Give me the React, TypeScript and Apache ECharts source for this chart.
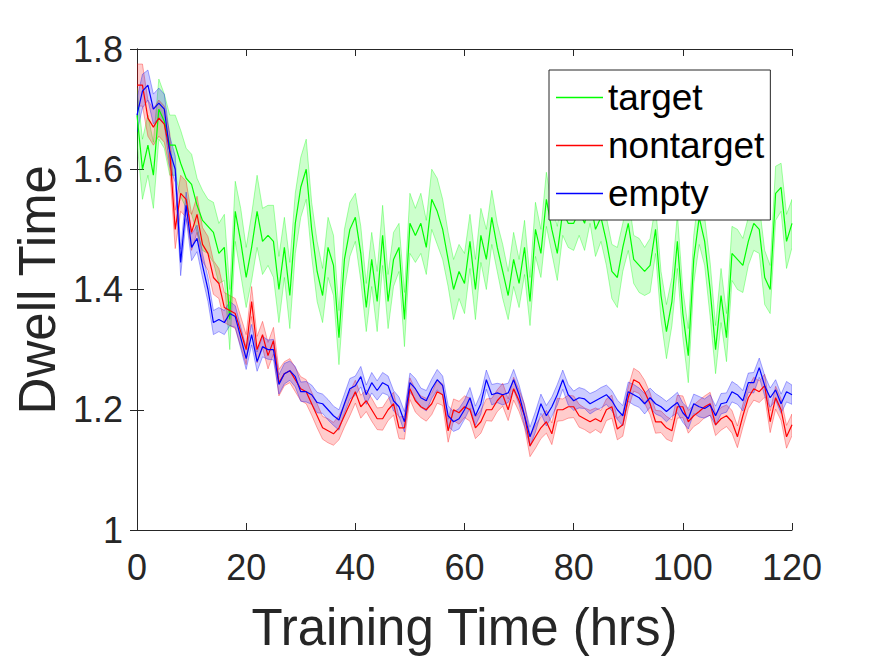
import React, { useEffect, useRef } from 'react';
import * as echarts from 'echarts';

const FONT = '"Liberation Sans", Arial, Helvetica, sans-serif';

const hours: number[] = Array.from({ length: 121 }, (_, i) => i);
const xTicks = { min: 0, max: 120, interval: 20 };
const yTicks = { min: 1, max: 1.8, interval: 0.2 };
const seriesNames = ['target', 'nontarget', 'empty'];

const targetMean = [
  1.69, 1.60, 1.64, 1.59, 1.70, 1.68, 1.64, 1.64, 1.61, 1.585, 1.575,
  1.54, 1.515, 1.505, 1.495, 1.46, 1.47, 1.35, 1.53, 1.48, 1.42,
  1.47, 1.53, 1.48, 1.49, 1.48, 1.40, 1.47, 1.39, 1.51, 1.57,
  1.60, 1.50, 1.43, 1.39, 1.47, 1.44, 1.32, 1.45, 1.50, 1.52,
  1.46, 1.37, 1.45, 1.38, 1.49, 1.38, 1.45, 1.47, 1.35, 1.51,
  1.49, 1.51, 1.47, 1.55, 1.53, 1.50, 1.45, 1.40, 1.43, 1.41,
  1.48, 1.40, 1.49, 1.45, 1.52, 1.47, 1.43, 1.39, 1.45, 1.41,
  1.47, 1.38, 1.50, 1.46, 1.55, 1.50, 1.46, 1.53, 1.51, 1.51,
  1.53, 1.51, 1.55, 1.50, 1.52, 1.48, 1.43, 1.42, 1.47, 1.51,
  1.45, 1.44, 1.43, 1.44, 1.50, 1.39, 1.33, 1.38, 1.48, 1.36,
  1.29, 1.45, 1.52, 1.48, 1.40, 1.30, 1.39, 1.32, 1.46, 1.45,
  1.44, 1.48, 1.51, 1.50, 1.42, 1.40, 1.56, 1.57, 1.48, 1.51,
];
const targetSem = [
  0.045, 0.05, 0.05, 0.055, 0.05, 0.045, 0.05, 0.05, 0.055, 0.05, 0.05,
  0.045, 0.05, 0.045, 0.05, 0.05, 0.055, 0.05, 0.05, 0.055, 0.05,
  0.055, 0.06, 0.055, 0.05, 0.06, 0.055, 0.05, 0.055, 0.05, 0.05,
  0.05, 0.045, 0.05, 0.045, 0.05, 0.05, 0.045, 0.05, 0.045, 0.04,
  0.045, 0.04, 0.045, 0.05, 0.05, 0.045, 0.045, 0.04, 0.045, 0.05,
  0.045, 0.05, 0.045, 0.05, 0.055, 0.05, 0.045, 0.05, 0.045, 0.05,
  0.045, 0.05, 0.045, 0.05, 0.045, 0.04, 0.045, 0.04, 0.045, 0.04,
  0.045, 0.04, 0.045, 0.04, 0.045, 0.04, 0.045, 0.04, 0.04, 0.045,
  0.04, 0.045, 0.04, 0.045, 0.04, 0.04, 0.045, 0.05, 0.04, 0.045,
  0.04, 0.045, 0.04, 0.045, 0.04, 0.04, 0.045, 0.04, 0.045, 0.04,
  0.045, 0.04, 0.045, 0.04, 0.045, 0.04, 0.045, 0.04, 0.045, 0.05,
  0.045, 0.04, 0.045, 0.04, 0.045, 0.04, 0.045, 0.04, 0.045, 0.04,
];

const nontargetMean = [
  1.74, 1.74, 1.685, 1.67, 1.685, 1.675, 1.63, 1.50, 1.56, 1.55, 1.495,
  1.525, 1.475, 1.46, 1.42, 1.41, 1.37, 1.365, 1.36, 1.33, 1.30,
  1.38, 1.30, 1.325, 1.29, 1.315, 1.245, 1.26, 1.265, 1.25, 1.235,
  1.23, 1.21, 1.19, 1.17, 1.165, 1.16, 1.17, 1.19, 1.21, 1.23,
  1.205, 1.215, 1.20, 1.185, 1.185, 1.20, 1.21, 1.17, 1.17, 1.235,
  1.215, 1.205, 1.20, 1.21, 1.23, 1.225, 1.165, 1.20, 1.195, 1.205,
  1.20, 1.17, 1.18, 1.20, 1.20, 1.215, 1.225, 1.20, 1.235, 1.215,
  1.19, 1.14, 1.155, 1.17, 1.18, 1.16, 1.20, 1.20, 1.205, 1.205,
  1.19, 1.185, 1.18, 1.185, 1.18, 1.20, 1.205, 1.168, 1.175, 1.22,
  1.25, 1.245, 1.23, 1.21, 1.18, 1.18, 1.17, 1.165, 1.205, 1.205,
  1.18, 1.19, 1.197, 1.205, 1.21, 1.175, 1.185, 1.19, 1.18, 1.155,
  1.19, 1.22, 1.235, 1.23, 1.24, 1.18, 1.22, 1.20, 1.155, 1.175,
];
const nontargetSem = [
  0.035, 0.035, 0.03, 0.03, 0.03, 0.03, 0.03, 0.032, 0.03, 0.03, 0.03,
  0.03, 0.028, 0.028, 0.028, 0.025, 0.025, 0.025, 0.025, 0.025, 0.025,
  0.025, 0.022, 0.022, 0.022, 0.022, 0.022, 0.02, 0.02, 0.02, 0.02,
  0.02, 0.019, 0.02, 0.019, 0.02, 0.019, 0.02, 0.019, 0.02, 0.019,
  0.019, 0.018, 0.019, 0.018, 0.019, 0.018, 0.019, 0.018, 0.019, 0.018,
  0.019, 0.018, 0.019, 0.018, 0.019, 0.018, 0.019, 0.018, 0.019, 0.018,
  0.019, 0.018, 0.019, 0.018, 0.019, 0.018, 0.019, 0.018, 0.019, 0.018,
  0.019, 0.018, 0.019, 0.018, 0.019, 0.018, 0.019, 0.018, 0.019, 0.018,
  0.019, 0.018, 0.019, 0.018, 0.019, 0.018, 0.019, 0.018, 0.019, 0.018,
  0.019, 0.018, 0.019, 0.018, 0.019, 0.018, 0.019, 0.018, 0.019, 0.018,
  0.019, 0.018, 0.019, 0.018, 0.019, 0.018, 0.019, 0.018, 0.019, 0.018,
  0.019, 0.018, 0.019, 0.018, 0.019, 0.018, 0.019, 0.018, 0.019, 0.018,
];

const emptyMean = [
  1.69, 1.73, 1.74, 1.70, 1.71, 1.70, 1.63, 1.60, 1.445, 1.54, 1.47,
  1.485, 1.44, 1.40, 1.345, 1.35, 1.345, 1.36, 1.355, 1.32, 1.285,
  1.325, 1.28, 1.305, 1.30, 1.30, 1.242, 1.26, 1.265, 1.255, 1.23,
  1.23, 1.225, 1.212, 1.21, 1.20, 1.19, 1.183, 1.21, 1.235, 1.24,
  1.255, 1.225, 1.245, 1.232, 1.245, 1.24, 1.215, 1.205, 1.18, 1.245,
  1.235, 1.22, 1.215, 1.235, 1.25, 1.24, 1.19, 1.18, 1.185, 1.20,
  1.22, 1.19, 1.21, 1.25, 1.225, 1.228, 1.225, 1.228, 1.25, 1.225,
  1.19, 1.155, 1.18, 1.21, 1.19, 1.205, 1.225, 1.25, 1.225, 1.215,
  1.22, 1.218, 1.21, 1.215, 1.22, 1.225, 1.215, 1.20, 1.19, 1.23,
  1.225, 1.22, 1.21, 1.22, 1.21, 1.205, 1.197, 1.205, 1.212, 1.195,
  1.185, 1.21, 1.205, 1.202, 1.208, 1.19, 1.21, 1.212, 1.23, 1.225,
  1.215, 1.245, 1.245, 1.27, 1.24, 1.22, 1.233, 1.21, 1.23, 1.225,
];
const emptySem = [
  0.028, 0.028, 0.025, 0.025, 0.025, 0.025, 0.025, 0.022, 0.022, 0.022, 0.022,
  0.022, 0.02, 0.02, 0.02, 0.02, 0.02, 0.02, 0.018, 0.018, 0.018,
  0.017, 0.016, 0.017, 0.016, 0.017, 0.016, 0.017, 0.016, 0.017, 0.016,
  0.017, 0.016, 0.017, 0.016, 0.017, 0.016, 0.017, 0.016, 0.017, 0.016,
  0.017, 0.016, 0.017, 0.016, 0.017, 0.016, 0.017, 0.016, 0.017, 0.016,
  0.017, 0.016, 0.017, 0.016, 0.017, 0.016, 0.017, 0.016, 0.017, 0.016,
  0.017, 0.016, 0.017, 0.016, 0.017, 0.016, 0.017, 0.016, 0.017, 0.016,
  0.017, 0.016, 0.017, 0.016, 0.017, 0.016, 0.017, 0.016, 0.017, 0.016,
  0.017, 0.016, 0.017, 0.016, 0.017, 0.016, 0.017, 0.016, 0.017, 0.016,
  0.017, 0.016, 0.017, 0.016, 0.017, 0.016, 0.017, 0.016, 0.017, 0.016,
  0.017, 0.016, 0.017, 0.016, 0.017, 0.016, 0.017, 0.016, 0.017, 0.016,
  0.017, 0.016, 0.017, 0.016, 0.017, 0.016, 0.017, 0.016, 0.017, 0.016,
];

function bandSeries(mean: number[], sem: number[], rgb: string) {
  const data = hours.map((h, i) => [h, mean[i] - sem[i], mean[i] + sem[i]]);
  return {
    type: 'custom',
    silent: true,
    clip: true,
    data,
    encode: { x: 0, y: [1, 2] },
    renderItem: (params: any, api: any) => {
      if (params.dataIndex !== 0) return null;
      const up = data.map((d) => api.coord([d[0], d[2]]));
      const lo = data.map((d) => api.coord([d[0], d[1]])).reverse();
      return {
        type: 'polygon',
        shape: { points: up.concat(lo) },
        style: {
          fill: `rgba(${rgb},0.2)`,
          stroke: `rgba(${rgb},0.42)`,
          lineWidth: 0.8,
        },
      };
    },
  };
}

function lineSeries(name: string, mean: number[], color: string) {
  return {
    type: 'line',
    name,
    data: hours.map((h, i) => [h, mean[i]]),
    showSymbol: false,
    symbol: 'none',
    lineStyle: { color, width: 1.2 },
    itemStyle: { color },
    z: 3,
  };
}

const AX = '#262626';

export default function App() {
  const ref = useRef<HTMLDivElement>(null);
  useEffect(() => {
    if (!ref.current) return;
    const chart = echarts.init(ref.current, undefined, { renderer: 'svg' });
    const axisCommon = {
      type: 'value',
      axisLine: { show: true, lineStyle: { color: AX, width: 1 } },
      axisTick: { show: true, inside: true, length: 7, lineStyle: { color: AX, width: 1 } },
      splitLine: { show: false },
    };
    chart.setOption({
      animation: false,
      backgroundColor: '#fff',
      grid: { left: 137, top: 49, right: 83, bottom: 126, containLabel: false },
      xAxis: [
        {
          ...axisCommon,
          ...xTicks,
          position: 'bottom',
          axisLabel: { fontSize: 36, color: AX, margin: 19, fontFamily: FONT },
        },
        {
          ...axisCommon,
          ...xTicks,
          position: 'top',
          axisLabel: { show: false },
        },
      ],
      yAxis: [
        {
          ...axisCommon,
          ...yTicks,
          position: 'left',
          axisLabel: { fontSize: 36, color: AX, margin: 14, fontFamily: FONT },
        },
        {
          ...axisCommon,
          ...yTicks,
          position: 'right',
          axisLabel: { show: false },
        },
      ],
      legend: {
        orient: 'vertical',
        left: 549,
        top: 70,
        data: seriesNames,
        icon: 'rect',
        itemWidth: 47,
        itemHeight: 1.5,
        itemGap: 11,
        padding: [9, 6, 8, 7],
        backgroundColor: '#fff',
        borderColor: AX,
        borderWidth: 1,
        borderRadius: 0,
        selectedMode: false,
        textStyle: { fontSize: 37, fontFamily: FONT, color: '#000' },
      },
      graphic: [
        {
          type: 'text',
          x: 464.5,
          y: 627,
          style: {
            text: 'Training Time (hrs)',
            fontSize: 51,
            fontFamily: FONT,
            fill: AX,
            align: 'center',
            verticalAlign: 'middle',
          },
        },
        {
          type: 'text',
          x: 37,
          y: 289.7,
          rotation: Math.PI / 2,
          style: {
            text: 'Dwell Time',
            fontSize: 51,
            fontFamily: FONT,
            fill: AX,
            align: 'center',
            verticalAlign: 'middle',
          },
        },
      ],
      series: [
        bandSeries(targetMean, targetSem, '0,255,0'),
        lineSeries(seriesNames[0], targetMean, '#00ff00'),
        bandSeries(nontargetMean, nontargetSem, '255,0,0'),
        lineSeries(seriesNames[1], nontargetMean, '#ff0000'),
        bandSeries(emptyMean, emptySem, '0,0,255'),
        lineSeries(seriesNames[2], emptyMean, '#0000ff'),
      ],
    });
    return () => chart.dispose();
  }, []);
  return (
    <div
      ref={ref}
      style={{ position: 'fixed', left: 0, top: 0, width: 875, height: 656, background: '#fff' }}
    />
  );
}
